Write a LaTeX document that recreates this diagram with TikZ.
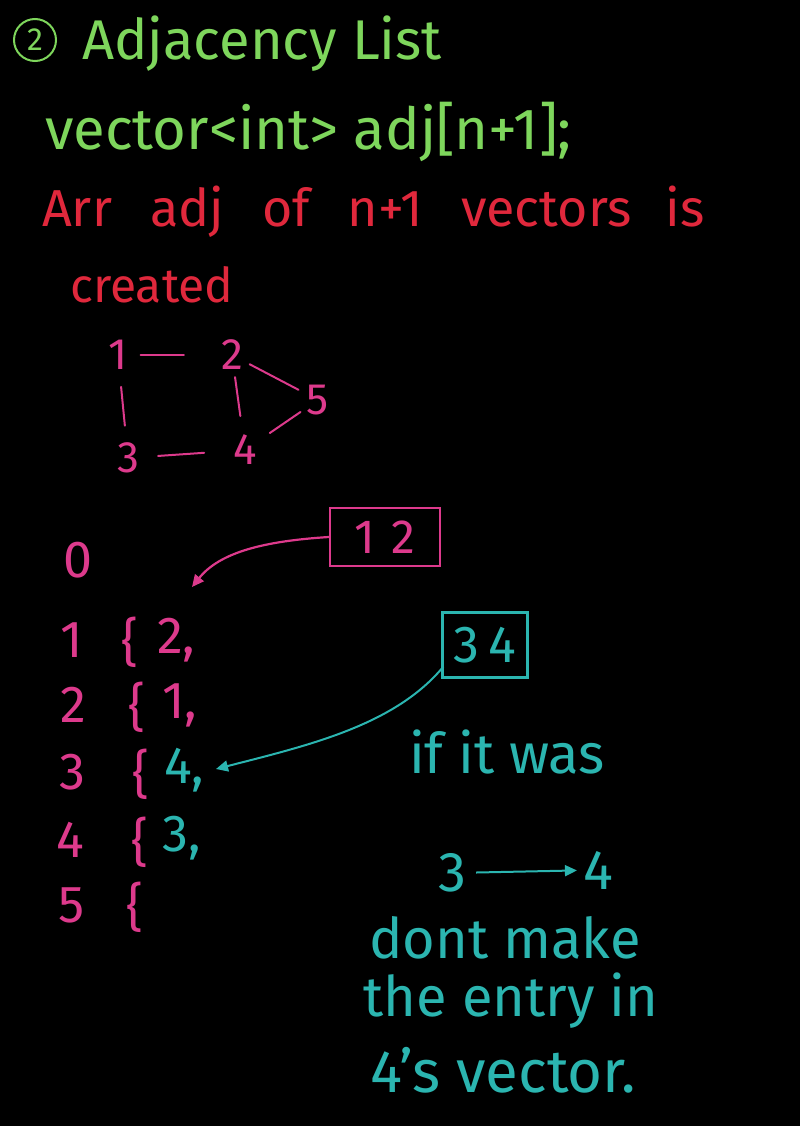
\documentclass[tikz,border=0pt]{standalone}
\usepackage{fontspec}
\setmainfont{Fira Sans}
\usetikzlibrary{arrows.meta,calc}
\definecolor{hgreen}{HTML}{7ED65C}
\definecolor{hred}{HTML}{E0283C}
\definecolor{hpink}{HTML}{DD3A8C}
\definecolor{hteal}{HTML}{2BB5B0}
\begin{document}
\begin{tikzpicture}[x=1pt,y=-1pt,
  every node/.style={inner sep=0pt},
  greentxt/.style={text=hgreen,anchor=west,font=\fontsize{56}{60}\selectfont},
  redtxt/.style={text=hred,anchor=west,font=\fontsize{52}{56}\selectfont},
  gnode/.style={text=hpink,font=\fontsize{44}{48}\selectfont,inner sep=3pt},
  gedge/.style={draw=hpink,line width=2pt,line cap=round},
  listtxt/.style={font=\fontsize{52}{56}\selectfont},
  boxnode/.style={draw,line width=2.2pt,font=\fontsize{48}{52}\selectfont,minimum height=58pt},
  pinkarrow/.style={draw=hpink,line width=2.2pt,-{Triangle[length=12pt,width=11pt]}},
  tealarrow/.style={draw=hteal,line width=2pt,-{Triangle[length=12pt,width=11pt]}},
  tealtxt/.style={text=hteal,font=\fontsize{56}{60}\selectfont}
]
\fill[black] (0,0) rectangle (800,1126);
\useasboundingbox (0,0) rectangle (800,1126);

% title
\node[draw=hgreen,line width=2pt,circle,minimum size=42pt,text=hgreen,font=\fontsize{32}{34}\selectfont] (c2) at (35,40) {2};
\node[greentxt,font=\fontsize{56}{60}\selectfont] (title) at (82,44) {Adjacency List};
\node[greentxt,font=\fontsize{58}{62}\selectfont] (decl) at (45,132) {vector<int> adj[n+1];};
\node[redtxt] (arr) at (42,212) {Arr\hspace{38pt}adj\hspace{38pt}of\hspace{38pt}n+1\hspace{38pt}vectors\hspace{34pt}is};
\node[redtxt,font=\fontsize{48}{52}\selectfont] (created) at (70,285) {created};

% graph
\node[gnode] (g1) at (118,355) {1};
\node[gnode] (g2) at (232,355) {2};
\node[gnode] (g5) at (318,400) {5};
\node[gnode] (g3) at (128,458) {3};
\node[gnode] (g4) at (245,450) {4};
\draw[gedge,shorten <=10pt,shorten >=34pt] (g1) -- (g2);
\draw[gedge,shorten <=4pt,shorten >=6pt] (g2) -- (g5);
\draw[gedge,shorten <=14pt,shorten >=14pt] (g1) -- (g3);
\draw[gedge,shorten <=4pt,shorten >=16pt] (g2) -- (g4);
\draw[gedge,shorten <=16pt,shorten >=26pt] (g3) -- (g4);
\draw[gedge,shorten <=12pt,shorten >=4pt] (g4) -- (g5);

% adjacency list
\node[listtxt,text=hpink] (i0) at (78,560) {0};
\node[listtxt,text=hpink] (i1) at (72,640) {1};
\node[listtxt,text=hpink] (b1) at (130,642) {\{};
\node[listtxt,text=hpink,anchor=west] (e1) at (157,640) {2,};
\node[listtxt,text=hpink] (i2) at (73,705) {2};
\node[listtxt,text=hpink] (b2) at (137,707) {\{};
\node[listtxt,text=hpink,anchor=west] (e2) at (162,705) {1,};
\node[listtxt,text=hpink] (i3) at (72,772) {3};
\node[listtxt,text=hpink] (b3) at (141,774) {\{};
\node[listtxt,text=hteal,anchor=west] (e3) at (164,770) {4,};
\node[listtxt,text=hpink] (i4) at (70,840) {4};
\node[listtxt,text=hpink] (b4) at (140,842) {\{};
\node[listtxt,text=hteal,anchor=west] (e4) at (162,838) {3,};
\node[listtxt,text=hpink] (i5) at (72,905) {5};
\node[listtxt,text=hpink] (b5) at (135,907) {\{};

% boxes and arrows
\node[boxnode,draw=hpink,text=hpink,minimum width=110pt] (box12) at (385,537) {1\,\,2};
\node[boxnode,draw=hteal,text=hteal,minimum width=85pt,minimum height=65pt,font=\fontsize{52}{56}\selectfont] (box34) at (485,645) {3\,4};
\coordinate (tip1) at (192,587);
\coordinate (tip2) at (216,769);
\draw[pinkarrow] (box12.west) .. controls (265,541) and (220,552) .. (tip1);
\draw[tealarrow] ($(box34.south west)+(2,-12)$) .. controls (395,725) and (310,745) .. (tip2);

% teal notes
\node[tealtxt] (ifwas) at (507,752) {if it was};
\node[tealtxt] (n3) at (452,873) {3};
\node[tealtxt] (n4) at (598,870) {4};
\draw[tealarrow,shorten <=10pt,shorten >=6pt] (n3) -- (n4);
\node[tealtxt] (l1) at (505,938) {dont make};
\node[tealtxt] (l2) at (511,1001) {the entry in};
\node[tealtxt,font=\fontsize{60}{64}\selectfont] (l3) at (503,1070) {4’s vector.};
\end{tikzpicture}
\end{document}
